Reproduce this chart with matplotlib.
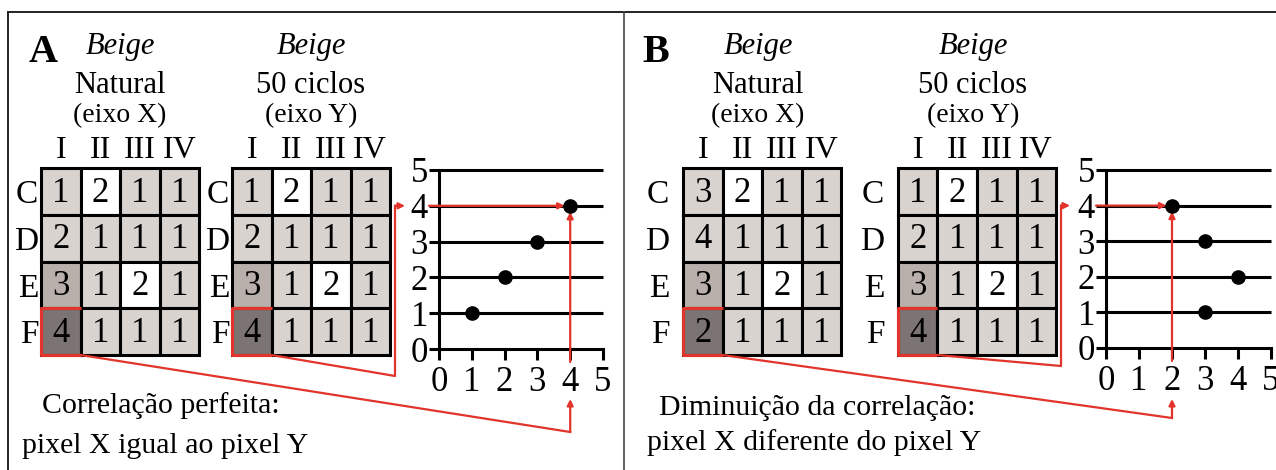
import matplotlib
matplotlib.use("Agg")
import matplotlib.pyplot as plt
from matplotlib.patches import Rectangle

plt.rcParams['font.family'] = ['Liberation Serif', 'DejaVu Serif']

# pixel grid (rows C-F, columns I-IV)
cols = ["I", "II", "III", "IV"]
rows = ["C", "D", "E", "F"]
# 0 = white, 1 = light grey, 2 = mid grey, 3 = dark grey
shade = [[1, 0, 1, 1],
         [1, 1, 1, 1],
         [2, 1, 0, 1],
         [3, 1, 1, 1]]

a_natural = [[1, 2, 1, 1], [2, 1, 1, 1], [3, 1, 2, 1], [4, 1, 1, 1]]
a_ciclos = [[1, 2, 1, 1], [2, 1, 1, 1], [3, 1, 2, 1], [4, 1, 1, 1]]
b_natural = [[3, 2, 1, 1], [4, 1, 1, 1], [3, 1, 2, 1], [2, 1, 1, 1]]
b_ciclos = [[1, 2, 1, 1], [2, 1, 1, 1], [3, 1, 2, 1], [4, 1, 1, 1]]

ticks = [0, 1, 2, 3, 4, 5]

shade_colors = ["#ffffff", "#d8d3cf", "#b9b0ab", "#7c7472"]
red = "#e2342b"
lw = 2.2

W, H = 1276, 470
fig = plt.figure(figsize=(W / 100, H / 100), dpi=100)
bg = fig.add_axes([0, 0, 1, 1])
bg.set_xlim(0, W)
bg.set_ylim(H, 0)
bg.axis('off')

# frame
bg.plot([8, W], [12, 12], color="#222222", lw=1.4)
bg.plot([8, 8], [12, H], color="#222222", lw=1.4)
bg.plot([624, 624], [12, H], color="#444444", lw=1.2)


def px_axes(x0, y0, x1, y1):
    return fig.add_axes([x0 / W, 1 - y1 / H, (x1 - x0) / W, (y1 - y0) / H])


def draw_grid(x0, vals, rowpad):
    ax = px_axes(x0, 168, x0 + 158, 355)
    ax.set_xlim(0, 4)
    ax.set_ylim(4, 0)
    for r, row in enumerate(vals):
        for c, v in enumerate(row):
            ax.add_patch(Rectangle((c, r), 1, 1, fc=shade_colors[shade[r][c]],
                                   ec='k', lw=lw, clip_on=False))
            ax.text(c + 0.5, r + 0.54, str(v), ha='center', va='center', fontsize=25)
    # highlighted pixel F-I
    ax.plot([1, 0, 0, 1], [3, 3, 4, 4], color=red, lw=lw, clip_on=False,
            solid_capstyle='butt')
    ax.xaxis.tick_top()
    ax.set_xticks([0.5, 1.5, 2.5, 3.5], cols)
    ax.set_yticks([0.5, 1.5, 2.5, 3.5], rows)
    ax.tick_params(axis='x', length=0, pad=2, labelsize=23)
    ax.tick_params(axis='y', length=0, pad=rowpad, labelsize=24)
    for s in ax.spines.values():
        s.set_visible(False)
    return ax


def px_to(ax, xp, yp):
    return ax.transData.inverted().transform(bg.transData.transform((xp, yp)))


panels = [
    dict(letter="A", lx=29, grids=[(41, a_natural, "Natural", "(eixo X)"),
                                   (232, a_ciclos, "50 ciclos", "(eixo Y)")],
         rowpad=2, title_dx=0, sc=(439, 603, 170, 349),
         low1=432, elbow2=(395, 376), tip2=405,
         cap=[(161, 413, "Correlação perfeita:"), (165, 453, "pixel X igual ao pixel Y")]),
    dict(letter="B", lx=642, grids=[(683, b_natural, "Natural", "(eixo X)"),
                                    (898, b_ciclos, "50 ciclos", "(eixo Y)")],
         rowpad=10, title_dx=-4, sc=(1106, 1271, 170, 348),
         low1=418, elbow2=(1061, 366), tip2=1070,
         cap=[(817, 415, "Diminuição da correlação:"), (814, 450, "pixel X diferente do pixel Y")]),
]

for p in panels:
    bg.text(p["lx"], 62, p["letter"], fontsize=29, fontweight='bold', va='baseline')
    gaxes = []
    for x0, vals, name, axis_name in p["grids"]:
        cx = x0 + 79 + p["title_dx"]
        bg.text(cx, 54, "Beige", style='italic', ha='center', va='baseline', fontsize=22)
        bg.text(cx, 93, name, ha='center', va='baseline', fontsize=22)
        bg.text(cx, 122, axis_name, ha='center', va='baseline', fontsize=20)
        gaxes.append(draw_grid(x0, vals, p["rowpad"]))

    # scatter of column I: natural (x) vs 50 ciclos (y)
    xs = [row[0] for row in p["grids"][0][1]]
    ys = [row[0] for row in p["grids"][1][1]]
    x0, x1, y0, y1 = p["sc"]
    sc = px_axes(x0, y0, x1, y1)
    sc.set_xlim(0, 5)
    sc.set_ylim(0, 5)
    sc.patch.set_alpha(0)
    for s in ["top", "right"]:
        sc.spines[s].set_visible(False)
    for s in ["left", "bottom"]:
        sc.spines[s].set_linewidth(lw)
    sc.set_xticks(ticks)
    sc.set_yticks(ticks)
    sc.tick_params(axis='x', direction='out', length=8, width=lw, pad=4, labelsize=25)
    sc.tick_params(axis='y', direction='out', length=7, width=lw, pad=1, labelsize=25)
    sc.hlines(ticks[1:], 0, 5, color='k', lw=lw, clip_on=False)
    sc.plot(xs, ys, 'o', color='k', ms=9.5, clip_on=False, zorder=5)

    # highlighted pixel F-I
    hx, hy = xs[-1], ys[-1]
    arr = dict(arrowstyle='-|>', color=red, lw=1.6, mutation_scale=9, shrinkA=0, shrinkB=0)
    xleft = px_to(sc, x0 - 10, 0)[0]
    sc.annotate('', xy=(hx - 0.17, hy), xytext=(xleft, hy), arrowprops=arr, zorder=4)
    ybelow = px_to(sc, 0, y1 + 13)[1]
    sc.annotate('', xy=(hx, hy - 0.17), xytext=(hx, ybelow), arrowprops=arr, zorder=4)

    # connector from natural grid pixel to x axis value
    c1 = sc.transData.inverted().transform(gaxes[0].transData.transform((1, 4)))
    ylow = px_to(sc, 0, p["low1"])[1]
    ytip = px_to(sc, 0, 399)[1]
    sc.plot([c1[0], hx, hx], [c1[1], ylow, ylow], color=red, lw=1.6, clip_on=False)
    sc.annotate('', xy=(hx, ytip), xytext=(hx, ylow), arrowprops=arr, annotation_clip=False)

    # connector from 50 ciclos grid pixel to y axis value
    c2 = sc.transData.inverted().transform(gaxes[1].transData.transform((1, 4)))
    ex, ey = px_to(sc, *p["elbow2"])
    xtip = px_to(sc, p["tip2"], 0)[0]
    sc.plot([c2[0], ex, ex], [c2[1], ey, hy], color=red, lw=1.6, clip_on=False)
    sc.annotate('', xy=(xtip, hy), xytext=(ex, hy), arrowprops=arr, annotation_clip=False)

    for cx, cy, txt in p["cap"]:
        bg.text(cx, cy, txt, ha='center', va='baseline', fontsize=21.5)

fig.savefig("out.png", dpi=100)
